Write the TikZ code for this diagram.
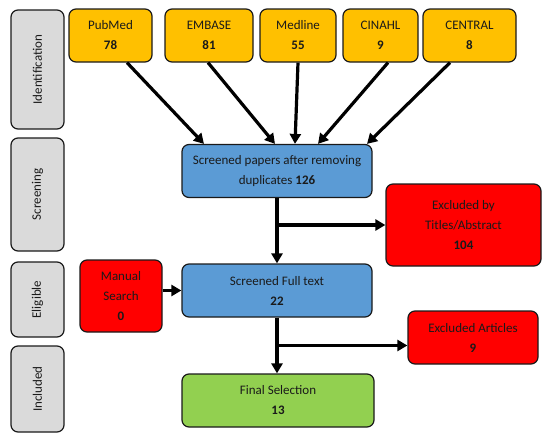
\documentclass[tikz,border=0pt]{standalone}
\usepackage{fontspec}
\setmainfont{Carlito}
\usetikzlibrary{arrows.meta,calc}
\definecolor{stagegray}{HTML}{DADADA}
\definecolor{dbyellow}{HTML}{FFC000}
\definecolor{screenblue}{HTML}{5B9BD5}
\definecolor{exclred}{HTML}{FF0000}
\definecolor{finalgreen}{HTML}{92D050}
\definecolor{ink}{HTML}{1A1A1A}
\tikzset{
  font=\fontsize{13}{20}\selectfont,
  >={Triangle[length=10pt,width=11pt]},
  flow/.style={draw=black, line width=3.2pt, ->},
  box/.style={draw=ink, line width=1.2pt, rounded corners=7pt,
    align=center, inner sep=2pt, text=ink},
  stage/.style={box, fill=stagegray, rotate=90, minimum height=53pt},
  dbbox/.style={box, fill=dbyellow, minimum height=53pt},
  screenbox/.style={box, fill=screenblue, minimum width=190pt,
    minimum height=53pt},
  exclbox/.style={box, fill=exclred},
  finalbox/.style={box, fill=finalgreen, minimum width=192pt,
    minimum height=53pt}
}
\begin{document}
\begin{tikzpicture}[x=1pt,y=-1pt]
  \useasboundingbox (0,0) rectangle (550,437);

  % stages on the left
  \node[stage, minimum width=119pt] (ident) at (37.5,69.5) {Identification};
  \node[stage, minimum width=113pt] (screen) at (37.5,194.5) {Screening};
  \node[stage, minimum width=75pt] (elig) at (37.5,299.5) {Eligible};
  \node[stage, minimum width=86pt] (incl) at (37.5,389) {Included};

  % databases
  \node[dbbox, minimum width=83pt] (pubmed) at (110.5,35.5) {PubMed\\\textbf{78}};
  \node[dbbox, minimum width=88pt] (embase) at (209,35.5) {EMBASE\\\textbf{81}};
  \node[dbbox, minimum width=76pt] (medline) at (298,35.5) {Medline\\\textbf{55}};
  \node[dbbox, minimum width=75pt] (cinahl) at (380.5,35.5) {CINAHL\\\textbf{9}};
  \node[dbbox, minimum width=93pt] (central) at (469.5,35.5) {CENTRAL\\\textbf{8}};

  % main flow
  \node[screenbox] (screened) at (277,171)
    {Screened papers after removing\\duplicates \textbf{126}};
  \node[exclbox, minimum width=155pt, minimum height=82pt] (exclTA) at (463.5,225)
    {Excluded by\\Titles/Abstract\\\textbf{104}};
  \node[exclbox, minimum width=82pt, minimum height=72pt] (manual) at (121,296)
    {Manual\\Search\\\textbf{0}};
  \node[screenbox] (fulltext) at (277,290.5) {Screened Full text\\\textbf{22}};
  \node[exclbox, minimum width=130pt, minimum height=53pt] (exclArt) at (473,337.5)
    {Excluded Articles\\\textbf{9}};
  \node[finalbox] (final) at (278,400.5) {Final Selection\\\textbf{13}};

  % database arrows
  \draw[flow] ($(pubmed.south)+(16.5,0)$) -- ($(screened.north)+(-73,0)$);
  \draw[flow] ($(embase.south)+(-1,0)$) -- ($(screened.north)+(-2,0)$);
  \draw[flow] (medline.south) -- ($(screened.north)+(18,0)$);
  \draw[flow] ($(cinahl.south)+(7.5,0)$) -- ($(screened.north)+(41,0)$);
  \draw[flow] ($(central.south)+(-19.5,0)$) -- ($(screened.north)+(90,0)$);

  % screening steps
  \draw[flow] (screened) -- (fulltext);
  \draw[flow] (screened.south |- exclTA.west) -- (exclTA.west);
  \draw[flow] (manual.east |- fulltext.west) -- (fulltext.west);
  \coordinate (split) at ($(fulltext.south)!0.5!(final.north)$);
  \draw[flow] (fulltext.south) -- (fulltext.south |- final.north);
  \draw[flow] (fulltext.south |- split) -- (split -| exclArt.west);
\end{tikzpicture}
\end{document}
